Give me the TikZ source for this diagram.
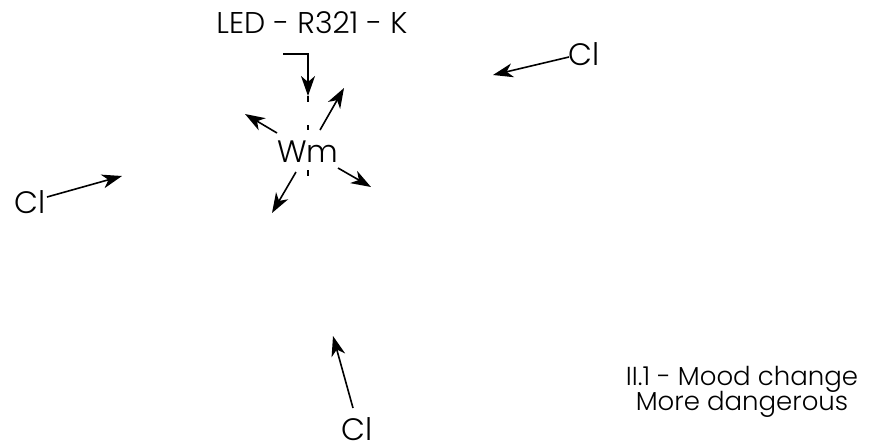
\documentclass[tikz,border=0pt]{standalone}
\usepackage{fontspec}
\setmainfont{Poppins}[UprightFont=* Light]
\usetikzlibrary{arrows.meta}
\begin{document}
\begin{tikzpicture}[x=1pt,y=-1pt,
  lbl/.style={inner sep=0pt,anchor=base,font=\fontsize{31}{33}\selectfont},
  small/.style={inner sep=0pt,anchor=base,font=\fontsize{26}{28}\selectfont},
  arr/.style={line width=1.6pt,-{Stealth[length=20pt,width=14pt,inset=6pt]}},
  axis/.style={line width=1.6pt}]
\useasboundingbox (0,0) rectangle (874,445);
% title label and bent arrow
\node[lbl,font=\fontsize{30}{32}\selectfont] (led) at (312,33) {LED - R321 - K};
\coordinate (bend0) at (283,54);
\coordinate (bendtip) at (308,96);
\draw[arr] (bend0) -- (308,54) -- (bendtip);
% center line segments
\draw[axis] (308,96) -- (308,102);
\draw[axis] (308,125) -- (308,130);
\draw[axis] (308,170) -- (308,176);
% central label
\node[lbl] (wm) at (308,162) {Wm};
\coordinate (ur0) at (320,130); \coordinate (ur1) at (344,88);
\coordinate (ul0) at (277,133); \coordinate (ul1) at (245,114);
\coordinate (dr0) at (338,168); \coordinate (dr1) at (371,187);
\coordinate (dl0) at (296,172); \coordinate (dl1) at (272,213);
\draw[arr] (ur0) -- (ur1);
\draw[arr] (ul0) -- (ul1);
\draw[arr] (dr0) -- (dr1);
\draw[arr] (dl0) -- (dl1);
% Cl labels
\node[lbl] (cl1) at (584,65) {Cl};
\coordinate (c1s) at (569,57); \coordinate (c1t) at (493,75);
\draw[arr] (c1s) -- (c1t);
\node[lbl] (cl2) at (30,213) {Cl};
\coordinate (c2s) at (47,197); \coordinate (c2t) at (122,176);
\draw[arr] (c2s) -- (c2t);
\node[lbl] (cl3) at (357,440) {Cl};
\coordinate (c3s) at (353,408); \coordinate (c3t) at (333,336);
\draw[arr] (c3s) -- (c3t);
% caption
\node[small] (cap1) at (742,385) {II.1 - Mood change};
\node[small] (cap2) at (742,410) {More dangerous};
\end{tikzpicture}
\end{document}
